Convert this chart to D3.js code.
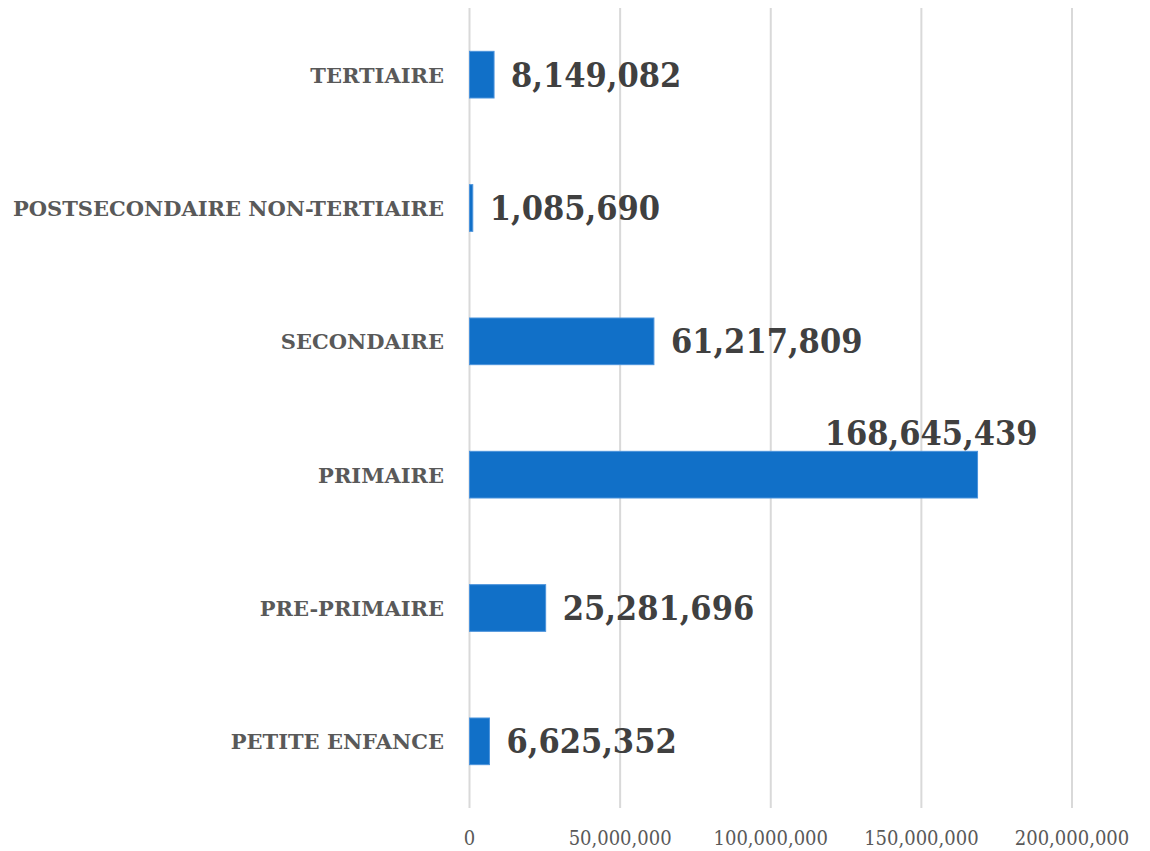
<!DOCTYPE html>
<html>
<head>
<meta charset="utf-8">
<script src="https://cdn.jsdelivr.net/npm/d3@7.9.0/dist/d3.min.js"></script>
<style>
  body { margin: 0; background: #fff; }
  svg { display: block; }
  .cat { font-family: "DejaVu Serif", serif; font-weight: bold; font-size: 21px; fill: #595959; }
  .tick-label { font-family: "DejaVu Serif Condensed", "DejaVu Serif", serif; font-size: 20px; fill: #595959; }
  .val { font-family: "DejaVu Serif Condensed", "DejaVu Serif", serif; font-weight: bold; font-size: 34px; fill: #404040; }
</style>
</head>
<body>
<svg width="1150" height="851"></svg>
<script>
// data, top to bottom
const categories = ['TERTIAIRE', 'POSTSECONDAIRE NON-TERTIAIRE', 'SECONDAIRE', 'PRIMAIRE', 'PRE-PRIMAIRE', 'PETITE ENFANCE'];
const values = [8149082, 1085690, 61217809, 168645439, 25281696, 6625352];
const tickValues = [0, 50000000, 100000000, 150000000, 200000000];

const svg = d3.select('svg');

const x = d3.scaleLinear().domain([0, 200000000]).range([469.5, 1072]);
const y = d3.scaleBand().domain(categories).range([8, 808]).paddingInner(0.65).paddingOuter(0.325);

// gridlines
svg.selectAll('line.grid')
  .data(tickValues)
  .join('line')
  .attr('class', 'grid')
  .attr('x1', d => x(d)).attr('x2', d => x(d))
  .attr('y1', 8).attr('y2', 808)
  .attr('stroke', '#d9d9d9')
  .attr('stroke-width', 2);

// tick labels
svg.selectAll('text.tick-label')
  .data(tickValues)
  .join('text')
  .attr('class', 'tick-label')
  .attr('x', d => x(d))
  .attr('y', 845)
  .attr('text-anchor', 'middle')
  .text(d => d3.format(',')(d));

// bars
svg.selectAll('rect.bar')
  .data(values)
  .join('rect')
  .attr('class', 'bar')
  .attr('x', x(0))
  .attr('y', (d, i) => y(categories[i]))
  .attr('width', d => x(d) - x(0))
  .attr('height', y.bandwidth())
  .attr('fill', '#1170c8')
  .attr('stroke', '#4b93dc')
  .attr('stroke-width', 1);

// category labels
svg.selectAll('text.cat')
  .data(categories)
  .join('text')
  .attr('class', 'cat')
  .attr('x', 444)
  .attr('y', d => y(d) + y.bandwidth() / 2 + 8)
  .attr('text-anchor', 'end')
  .text(d => d);

// value labels (the biggest one sits above its bar like in Excel)
const maxV = d3.max(values);
svg.selectAll('text.val')
  .data(values)
  .join('text')
  .attr('class', 'val')
  .attr('x', d => d === maxV ? x(d) + 60 : x(d) + 17)
  .attr('y', (d, i) => d === maxV ? y(categories[i]) - 6 : y(categories[i]) + y.bandwidth() / 2 + 12)
  .attr('text-anchor', d => d === maxV ? 'end' : 'start')
  .text(d => d3.format(',')(d));
</script>
</body>
</html>
